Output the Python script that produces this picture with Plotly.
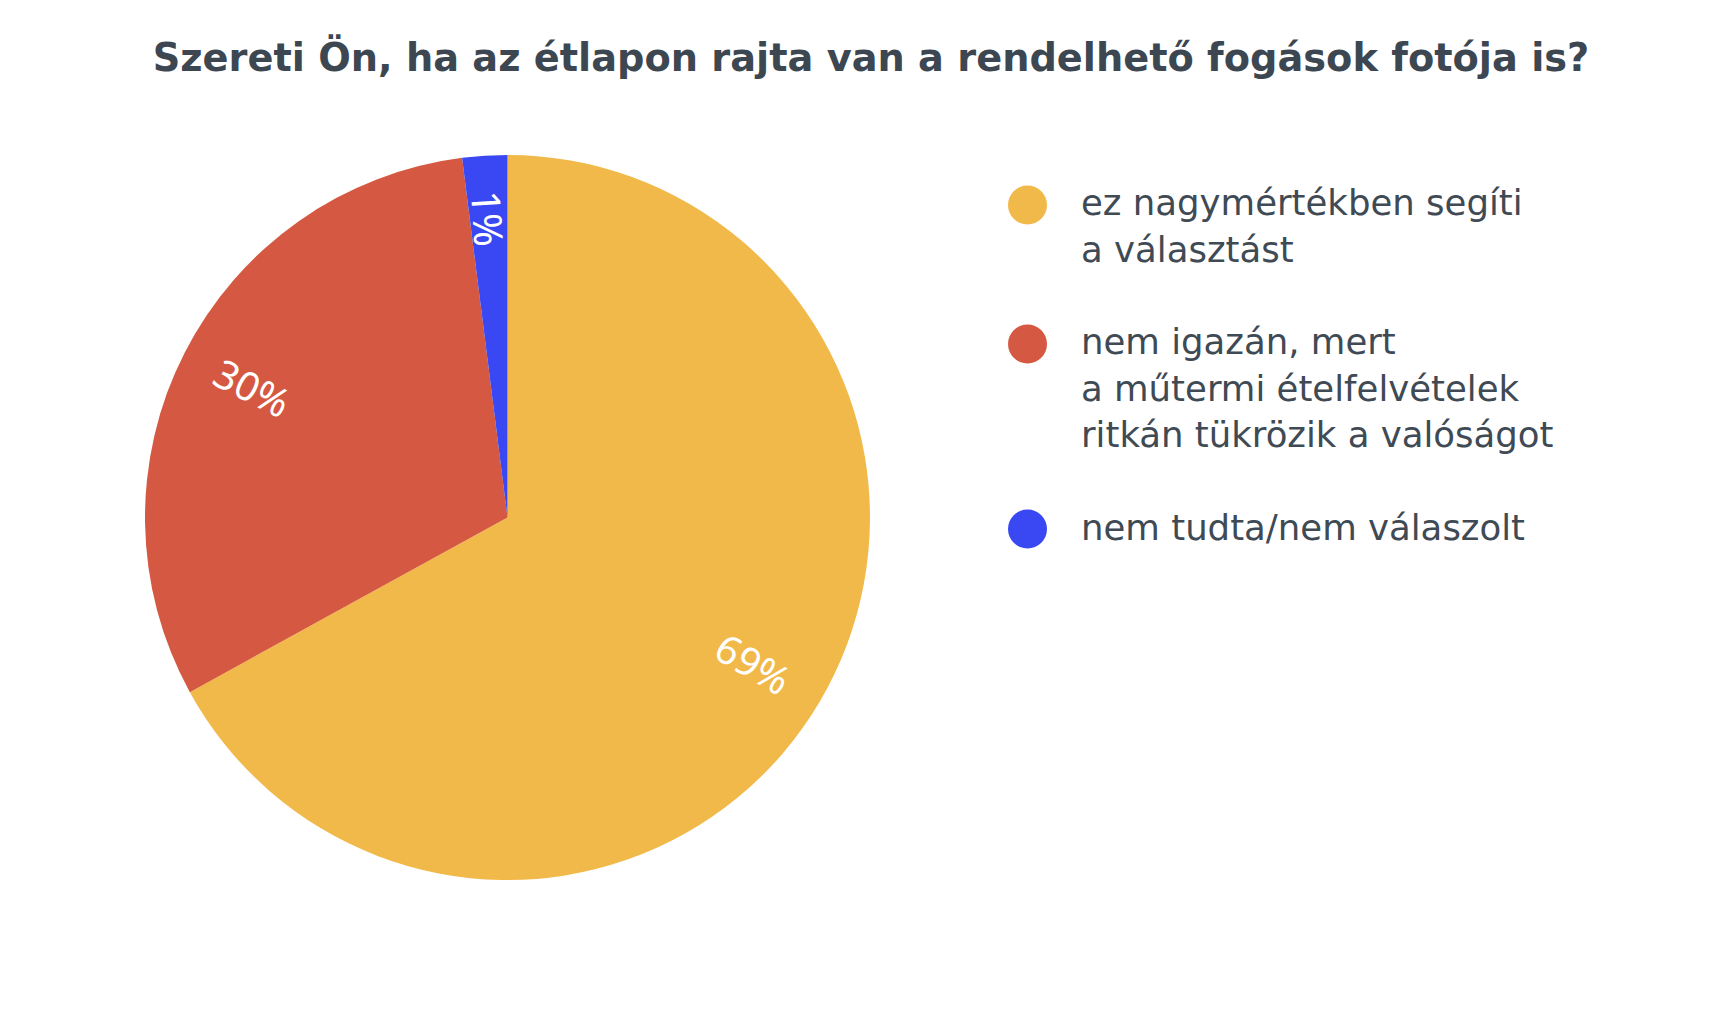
import math
import plotly.graph_objects as go

# Data
categories = [
    "ez nagymértékben segíti<br>a választást",
    "nem igazán, mert<br>a műtermi ételfelvételek<br>ritkán tükrözik a valóságot",
    "nem tudta/nem válaszolt",
]
slice_shares = [67, 31, 2]
printed_labels = ["69%", "30%", "1%"]  # percentages printed on the slices
colors = ["#F1B949", "#D55942", "#3A48F3"]
title_text = "Szereti Ön, ha az étlapon rajta van a rendelhető fogások fotója is?"

W, H = 1726, 1028
FONT = "DejaVu Sans"
LABEL_FONT = "Noto Sans"
TEXT_COLOR = "#3D4751"
LABEL_SIZE = 40

# pie placement (pixels)
CX, CY, R = 507.5, 517.5, 362.5

fig = go.Figure()
fig.add_trace(go.Pie(
    labels=categories,
    values=slice_shares,
    text=printed_labels,
    textinfo="none",
    marker=dict(colors=colors, line=dict(width=0)),
    sort=False,
    direction="clockwise",
    rotation=0,
    domain=dict(x=[(CX - R) / W, (CX + R) / W], y=[1 - (CY + R) / H, 1 - (CY - R) / H]),
    showlegend=False,
    hoverinfo="label+text",
))

annotations = []
shapes = []

# radial slice labels, placed at each slice's mid-angle (computed from data),
# with their outer end at a fixed distance from the rim
total = sum(slice_shares)
cum = 0.0
for share, lab in zip(slice_shares, printed_labels):
    mid = (cum + share / 2) / total * 360.0
    cum += share
    rr = 0.905 * R - len(lab) * 0.35 * LABEL_SIZE
    px = CX + rr * math.sin(math.radians(mid))
    py = CY - rr * math.cos(math.radians(mid))
    ang = mid - 90 if mid <= 180 else mid - 270
    annotations.append(dict(text=lab, xref="paper", yref="paper",
                            x=px / W, y=1 - py / H, xanchor="center", yanchor="middle",
                            textangle=ang, showarrow=False,
                            font=dict(family=LABEL_FONT, size=LABEL_SIZE, color="white")))

# Custom legend (circle markers + left aligned lines)
line_gap = 46
y_cursor = 205
for i, (cat, col) in enumerate(zip(categories, colors)):
    lines = cat.split("<br>")
    yc = y_cursor
    r = 19.5
    shapes.append(dict(type="circle", xref="paper", yref="paper",
                       x0=(1027.5 - r) / W, x1=(1027.5 + r) / W,
                       y0=1 - (yc + r) / H, y1=1 - (yc - r) / H,
                       fillcolor=col, line=dict(width=0)))
    for k, ln in enumerate(lines):
        annotations.append(dict(text=ln, xref="paper", yref="paper",
                                x=1079 / W, y=1 - (yc - 2 + k * line_gap) / H,
                                xanchor="left", yanchor="middle", showarrow=False,
                                font=dict(family=FONT, size=35.5, color="#404A54")))
    y_cursor = yc + (len(lines) + 1) * line_gap + 1

fig.update_layout(
    width=W, height=H,
    margin=dict(l=0, r=0, t=0, b=0),
    paper_bgcolor="white",
    plot_bgcolor="white",
    title=dict(text="<b>" + title_text + "</b>", x=871 / W, xanchor="center",
               y=1 - 58 / H, yanchor="middle",
               font=dict(family=FONT, size=38.3, color=TEXT_COLOR)),
    shapes=shapes,
    annotations=annotations,
    showlegend=False,
)

fig.write_html("out.html")
